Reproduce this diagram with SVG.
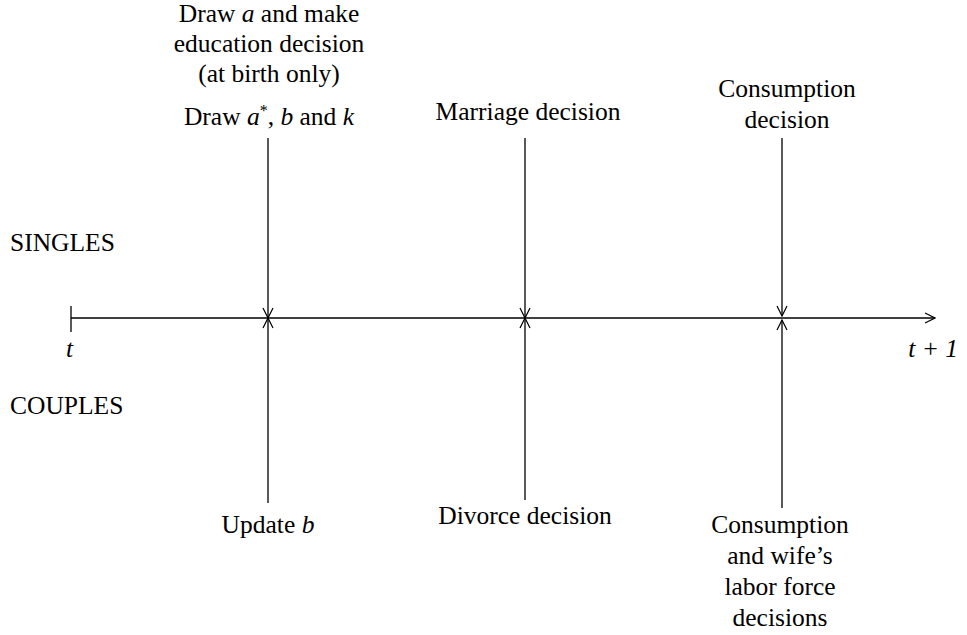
<svg xmlns="http://www.w3.org/2000/svg" width="967" height="635" viewBox="0 0 967 635">
<defs>
<marker id="ah" viewBox="0 0 12 12" refX="11" refY="6" markerWidth="12" markerHeight="12" markerUnits="userSpaceOnUse" orient="auto">
<path d="M1,1 L11,6 L1,11" fill="none" stroke="#000" stroke-width="1.2"/>
</marker>
</defs>
<style>
text{font-family:"Liberation Serif","Times New Roman",serif;font-size:25.5px;fill:#000}
.c{text-anchor:middle}
.ln{stroke:#000;stroke-width:1.3;fill:none}
</style>
<rect width="967" height="635" fill="#fff"/>
<g id="connectors">
<line class="ln" x1="71" y1="318" x2="935" y2="318" marker-end="url(#ah)"/>
<line class="ln" x1="71" y1="306" x2="71" y2="332"/>
<line class="ln" x1="268" y1="138" x2="268" y2="318" marker-end="url(#ah)"/>
<line class="ln" x1="268" y1="503" x2="268" y2="318" marker-end="url(#ah)"/>
<line class="ln" x1="525" y1="138" x2="525" y2="318" marker-end="url(#ah)"/>
<line class="ln" x1="525" y1="500" x2="525" y2="318" marker-end="url(#ah)"/>
<line class="ln" x1="782" y1="138" x2="782" y2="316" marker-end="url(#ah)"/>
<line class="ln" x1="782" y1="508" x2="782" y2="320" marker-end="url(#ah)"/>
</g>
<g id="label-singles"><text x="10" y="251">SINGLES</text></g>
<g id="label-couples"><text x="10" y="414">COUPLES</text></g>
<g id="label-t"><text x="66" y="357" font-style="italic">t</text></g>
<g id="label-t1"><text x="958" y="357" font-style="italic" text-anchor="end">t + 1</text></g>
<g id="node-draw">
<text class="c" x="269" y="22">Draw <tspan font-style="italic">a</tspan> and make</text>
<text class="c" x="269" y="52">education decision</text>
<text class="c" x="269" y="82">(at birth only)</text>
<text class="c" x="269" y="125">Draw <tspan font-style="italic">a</tspan><tspan font-size="16" dy="-9">*</tspan><tspan dy="9">, </tspan><tspan font-style="italic">b</tspan> and <tspan font-style="italic">k</tspan></text>
</g>
<g id="node-marriage"><text class="c" x="528" y="120">Marriage decision</text></g>
<g id="node-consumption-singles">
<text class="c" x="787" y="97">Consumption</text>
<text class="c" x="787" y="128">decision</text>
</g>
<g id="node-update"><text class="c" x="268" y="533">Update <tspan font-style="italic">b</tspan></text></g>
<g id="node-divorce"><text class="c" x="525" y="524">Divorce decision</text></g>
<g id="node-consumption-couples">
<text class="c" x="780" y="533">Consumption</text>
<text class="c" x="780" y="564">and wife’s</text>
<text class="c" x="780" y="595">labor force</text>
<text class="c" x="780" y="626">decisions</text>
</g>
</svg>
